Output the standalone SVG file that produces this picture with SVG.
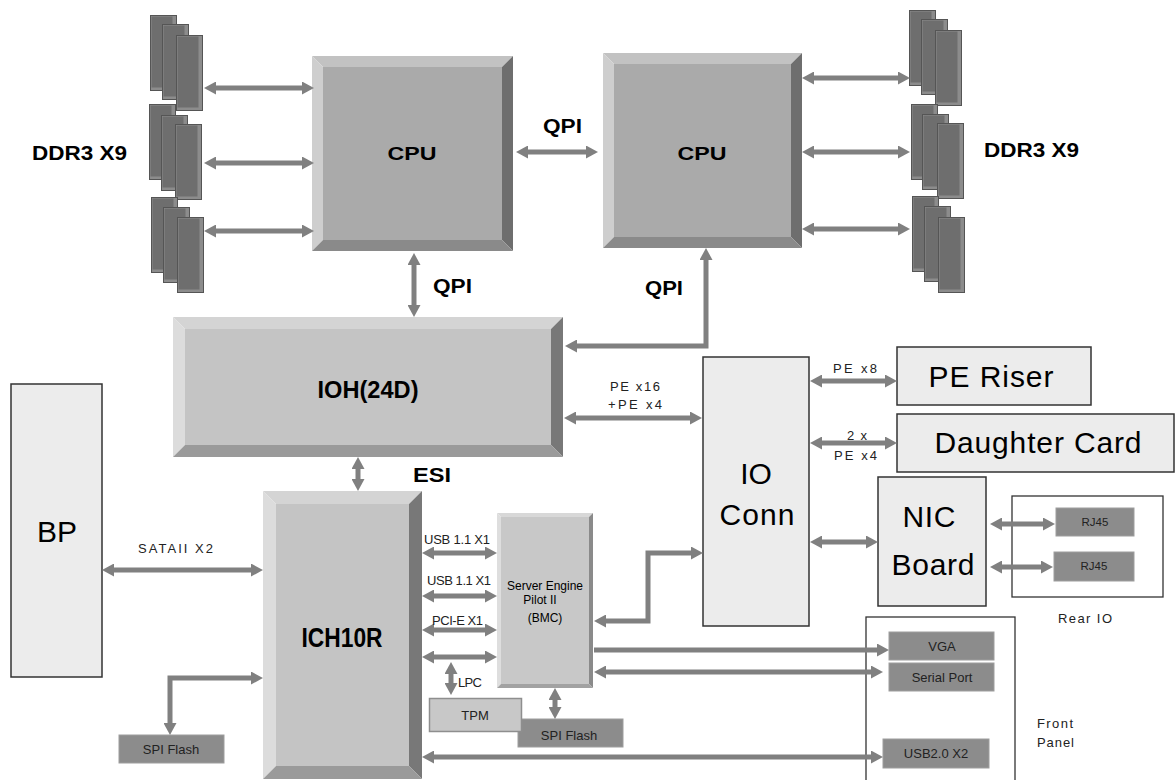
<svg xmlns="http://www.w3.org/2000/svg" xmlns:xlink="http://www.w3.org/1999/xlink" width="1175" height="780" viewBox="0 0 1175 780">
<style>
text{font-family:"Liberation Sans",Arial,sans-serif;fill:#000}
.b{font-weight:bold}
.big{font-size:30px}
.sm{font-size:13px;fill:#222}
.xs{font-size:11.5px;fill:#222}
.box{fill:#ececec;stroke:#333;stroke-width:1.5}
.frame{fill:none;stroke:#333;stroke-width:1.3}
.dk{fill:#8c8c8c;stroke:#9e9e9e;stroke-width:1}
.cn{fill:none;stroke:#808080;stroke-width:5}
.a2{marker-start:url(#ah);marker-end:url(#ah)}
.a1{marker-end:url(#ah)}
.cf{fill:#aaaaaa}.ct{fill:#c2c2c2}.cl{fill:#cecece}.cr{fill:#6e6e6e}.cb{fill:#8a8a8a}
.if{fill:#c4c4c4}.it{fill:#d4d4d4}.il{fill:#dcdcdc}.ir{fill:#787878}.ib{fill:#9a9a9a}
</style>
<defs>
<marker id="ah" viewBox="0 0 12 13" markerWidth="12" markerHeight="13" refX="5" refY="6.5" orient="auto-start-reverse" markerUnits="userSpaceOnUse"><path d="M0,0 L12,6.5 L0,13 z" fill="#808080"/></marker>
<g id="dimm"><rect x="0.5" y="0.5" width="26" height="75" fill="#8c8c8c" stroke="#555"/><rect x="1.5" y="1.5" width="21" height="71" fill="#6e6e6e"/></g>
</defs>

<g id="ddr-left">
<use xlink:href="#dimm" x="150" y="15"/><use xlink:href="#dimm" x="162" y="24"/><use xlink:href="#dimm" x="176" y="35"/>
<use xlink:href="#dimm" x="149" y="104"/><use xlink:href="#dimm" x="161" y="115"/><use xlink:href="#dimm" x="175" y="124"/>
<use xlink:href="#dimm" x="151" y="197"/><use xlink:href="#dimm" x="163" y="207"/><use xlink:href="#dimm" x="177" y="217"/>
<text class="b" x="32" y="160" font-size="21" textLength="95" lengthAdjust="spacingAndGlyphs">DDR3 X9</text>
</g>
<g id="ddr-right">
<use xlink:href="#dimm" x="909" y="10"/><use xlink:href="#dimm" x="921" y="19"/><use xlink:href="#dimm" x="935" y="30"/>
<use xlink:href="#dimm" x="911" y="104"/><use xlink:href="#dimm" x="922" y="114"/><use xlink:href="#dimm" x="937" y="123"/>
<use xlink:href="#dimm" x="912" y="196"/><use xlink:href="#dimm" x="924" y="206"/><use xlink:href="#dimm" x="938" y="217"/>
<text class="b" x="984" y="157" font-size="21" textLength="95" lengthAdjust="spacingAndGlyphs">DDR3 X9</text>
</g>

<g id="cpu1">
<rect class="cf" x="323" y="67" width="179" height="173"/>
<polygon class="ct" points="312,56 513,56 502,67 323,67"/>
<polygon class="cl" points="312,56 323,67 323,240 312,251"/>
<polygon class="cr" points="513,56 513,251 502,240 502,67"/>
<polygon class="cb" points="312,251 323,240 502,240 513,251"/>
<text class="b" x="412" y="160" font-size="19" text-anchor="middle" textLength="49" lengthAdjust="spacingAndGlyphs">CPU</text>
</g>
<g id="cpu2">
<rect class="cf" x="614" y="64" width="177" height="173"/>
<polygon class="ct" points="603,53 802,53 791,64 614,64"/>
<polygon class="cl" points="603,53 614,64 614,237 603,248"/>
<polygon class="cr" points="802,53 802,248 791,237 791,64"/>
<polygon class="cb" points="603,248 614,237 791,237 802,248"/>
<text class="b" x="702" y="160" font-size="19" text-anchor="middle" textLength="49" lengthAdjust="spacingAndGlyphs">CPU</text>
</g>
<g id="ioh">
<rect class="if" x="185" y="329" width="366" height="116"/>
<polygon class="it" points="173,317 563,317 551,329 185,329"/>
<polygon class="il" points="173,317 185,329 185,445 173,457"/>
<polygon class="ir" points="563,317 563,457 551,445 551,329"/>
<polygon class="ib" points="173,457 185,445 551,445 563,457"/>
<text class="b" x="368" y="398" font-size="24" text-anchor="middle" textLength="101" lengthAdjust="spacingAndGlyphs">IOH(24D)</text>
</g>
<g id="ich">
<rect class="if" x="276" y="504" width="133" height="262"/>
<polygon class="it" points="263,491 422,491 409,504 276,504"/>
<polygon class="il" points="263,491 276,504 276,766 263,779"/>
<polygon class="ir" points="422,491 422,779 409,766 409,504"/>
<polygon class="ib" points="263,779 276,766 409,766 422,779"/>
<text class="b" x="342" y="647" font-size="27" text-anchor="middle" textLength="81" lengthAdjust="spacingAndGlyphs">ICH10R</text>
</g>
<g id="bmc">
<rect x="501" y="517" width="88" height="167" fill="#c8c8c8"/>
<polygon points="497,513 593,513 589,517 501,517" fill="#d8d8d8"/>
<polygon points="497,513 501,517 501,684 497,688" fill="#dedede"/>
<polygon points="593,513 593,688 589,684 589,517" fill="#8a8a8a"/>
<polygon points="497,688 501,684 589,684 593,688" fill="#a2a2a2"/>
<text x="545" y="590" font-size="12" text-anchor="middle" textLength="76" lengthAdjust="spacingAndGlyphs" fill="#222">Server Engine</text>
<text x="540" y="604" font-size="12" text-anchor="middle" fill="#222">Pilot II</text>
<text x="545" y="622" font-size="12" text-anchor="middle" fill="#222">(BMC)</text>
</g>
<g id="bp">
<rect class="box" x="11" y="384" width="91" height="293"/>
<text class="big" x="57" y="542" text-anchor="middle">BP</text>
</g>
<g id="spi-left">
<rect class="dk" x="119" y="735" width="105" height="28"/>
<text class="sm" x="171" y="754" font-size="12.5" text-anchor="middle">SPI Flash</text>
</g>
<g id="spi-bmc">
<rect class="dk" x="518" y="719" width="105" height="28"/>
<text class="sm" x="569" y="740" font-size="12.5" text-anchor="middle">SPI Flash</text>
</g>
<g id="tpm">
<rect x="429.5" y="698.5" width="92" height="33" fill="#c8c8c8" stroke="#8e8e8e" stroke-width="1.5"/>
<text class="sm" x="475" y="720" text-anchor="middle">TPM</text>
</g>
<g id="ioconn">
<rect class="box" x="703" y="357" width="106" height="269"/>
<text class="big" x="756" y="484" text-anchor="middle">IO</text>
<text class="big" x="757" y="525" text-anchor="middle" textLength="75">Conn</text>
</g>
<g id="pe-riser">
<rect class="box" x="897" y="347" width="194" height="58"/>
<text class="big" x="991" y="387" text-anchor="middle" textLength="125">PE Riser</text>
</g>
<g id="daughter-card">
<rect class="box" x="897" y="414" width="277" height="58"/>
<text class="big" x="1038" y="453" text-anchor="middle" textLength="207">Daughter Card</text>
</g>
<g id="nic">
<rect class="box" x="878" y="477" width="108" height="129"/>
<text class="big" x="929" y="527" text-anchor="middle" textLength="53">NIC</text>
<text class="big" x="933" y="575" text-anchor="middle" textLength="83">Board</text>
</g>
<g id="rear-io">
<rect class="frame" x="1012" y="496" width="151" height="101"/>
<rect class="dk" x="1056" y="508" width="78" height="28"/>
<text class="xs" x="1095" y="526" text-anchor="middle">RJ45</text>
<rect class="dk" x="1054" y="552" width="80" height="29"/>
<text class="xs" x="1094" y="570" text-anchor="middle">RJ45</text>
<text class="sm" x="1058" y="623" textLength="54">Rear IO</text>
</g>
<g id="front-panel">
<rect class="frame" x="866" y="617" width="149" height="175"/>
<rect class="dk" x="889" y="632" width="105" height="28"/>
<text class="sm" x="942" y="651" text-anchor="middle">VGA</text>
<rect class="dk" x="889" y="663" width="105" height="28"/>
<text class="sm" x="942" y="682" text-anchor="middle">Serial Port</text>
<rect class="dk" x="883" y="739" width="106" height="29"/>
<text class="sm" x="936" y="758" text-anchor="middle">USB2.0 X2</text>
<text class="sm" x="1037" y="728" textLength="36">Front</text>
<text class="sm" x="1037" y="747" textLength="37">Panel</text>
</g>

<g id="connectors">
<path class="cn a2" d="M211,88 H307"/>
<path class="cn a2" d="M211,163 H307"/>
<path class="cn a2" d="M211,231 H307"/>
<path class="cn a2" d="M809,78 H903"/>
<path class="cn a2" d="M809,152 H903"/>
<path class="cn a2" d="M809,229 H903"/>
<path class="cn a2" d="M523,152 H591"/>
<path class="cn a2" d="M414,260 V310"/>
<path class="cn a2" d="M706,255 V346 H572"/>
<path class="cn a2" d="M358,464 V484"/>
<path class="cn a2" d="M571,418 H695"/>
<path class="cn a2" d="M817,381 H890"/>
<path class="cn a2" d="M817,443 H890"/>
<path class="cn a2" d="M817,542 H871"/>
<path class="cn a2" d="M997,524 H1048"/>
<path class="cn a2" d="M997,567 H1046"/>
<path class="cn a2" d="M601,621 H648 V553 H696"/>
<path class="cn a1" d="M594,650 H882"/>
<path class="cn a2" d="M601,672 H876"/>
<path class="cn a2" d="M429,757 H876"/>
<path class="cn a2" d="M109,570 H256"/>
<path class="cn a2" d="M256,678 H170 V728"/>
<path class="cn a2" d="M429,553 H490"/>
<path class="cn a2" d="M429,596 H490"/>
<path class="cn a2" d="M429,630 H490"/>
<path class="cn a2" d="M429,657 H490"/>
<path class="cn a2" d="M451,669 V688"/>
<path class="cn a2" d="M555,695 V712"/>
<text class="b" x="543" y="133" font-size="21" textLength="39" lengthAdjust="spacingAndGlyphs">QPI</text>
<text class="b" x="433" y="293" font-size="21" textLength="39" lengthAdjust="spacingAndGlyphs">QPI</text>
<text class="b" x="645" y="295" font-size="21" textLength="38" lengthAdjust="spacingAndGlyphs">QPI</text>
<text class="b" x="413" y="482" font-size="21" textLength="38" lengthAdjust="spacingAndGlyphs">ESI</text>
<text class="sm" x="610" y="391" textLength="50">PE x16</text>
<text class="sm" x="608" y="409" textLength="54">+PE x4</text>
<text class="sm" x="833" y="373" textLength="44">PE x8</text>
<text class="sm" x="847" y="440" textLength="20">2 x</text>
<text class="sm" x="834" y="460" textLength="43">PE x4</text>
<text class="sm" x="138" y="553" textLength="75">SATAII X2</text>
<text class="sm" x="424" y="544" font-size="12.5" textLength="66">USB 1.1 X1</text>
<text class="sm" x="427" y="585" font-size="12.5" textLength="64">USB 1.1 X1</text>
<text class="sm" x="432" y="625" font-size="12.5" textLength="51">PCI-E X1</text>
<text class="sm" x="458" y="687" font-size="12.5" textLength="24">LPC</text>
</g>
</svg>
